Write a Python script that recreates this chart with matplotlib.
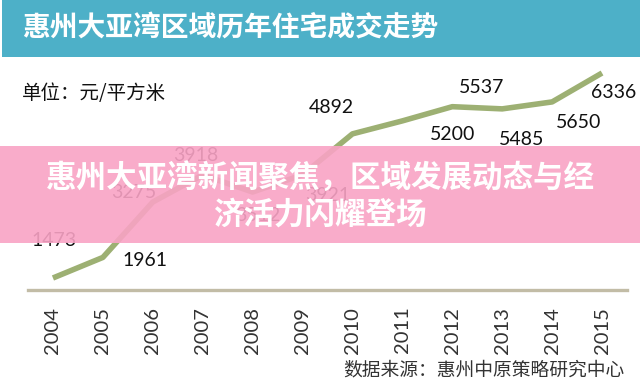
import matplotlib
matplotlib.use('Agg')
import matplotlib.pyplot as plt
from matplotlib.patches import Rectangle

plt.rcParams['font.family'] = ['Noto Sans CJK SC', 'DejaVu Sans']

# datos del grafico
years = ['2004', '2005', '2006', '2007', '2008', '2009',
         '2010', '2011', '2012', '2013', '2014', '2015']
prices = [1473, 1961, 3275, 3918, 3512, 3921,
          4892, 5200, 5537, 5485, 5650, 6336]

title = '惠州大亚湾区域历年住宅成交走势'
unit = '单位：元/平方米'
source = '数据来源：惠州中原策略研究中心'
banner = '惠州大亚湾新闻聚焦，区域发展动态与经\n济活力闪耀登场'

# desplazamiento de cada etiqueta (puntos)
offsets = [(1, 27), (30, -2), (-14, 7), (-5, 14), (4, -17), (18, -15),
           (-15, 19), (36, -10), (21, 14), (14, -22), (19, -15), (8, -14)]

fig = plt.figure(figsize=(6.4, 3.91), dpi=100)
fig.patch.set_facecolor('white')

# barra del titulo
fig.patches.append(Rectangle((2 / 640, 1 - 57 / 391), 638 / 640, 57 / 391,
                             transform=fig.transFigure, facecolor='#4DB0C8',
                             edgecolor='none', zorder=0))
fig.text(22 / 640, 1 - 28 / 391, title, color='white', fontsize=20,
         fontweight='bold', va='center', ha='left')

fig.text(22 / 640, 1 - 93 / 391, unit, color='#111111', fontsize=14,
         va='center', ha='left')

ax = fig.add_axes([28 / 640, 1 - 290 / 391, 599 / 640, 228 / 391])
ax.set_facecolor('none')
x = list(range(len(years)))
ax.plot(x, prices, color='#9DB073', lw=4, solid_capstyle='butt')
for xi, v, off in zip(x, prices, offsets):
    ax.annotate(str(v), (xi, v), xytext=off, textcoords='offset points',
                ha='center', va='center', fontsize=14, color='#111111',
                family=['Lato', 'DejaVu Sans'])

ax.set_xlim(-0.5, len(years) - 0.5)
ax.set_ylim(1188, 6597)
ax.set_xticks(x)
ax.set_xticklabels(years, rotation=90, fontsize=14.5, color='#333333',
                   family=['Lato', 'DejaVu Sans'])
ax.tick_params(axis='x', length=0, pad=12)
ax.set_yticks([])
for s in ['top', 'left', 'right']:
    ax.spines[s].set_visible(False)
ax.spines['bottom'].set_color('#C2BCA6')
ax.spines['bottom'].set_linewidth(2.4)

fig.text(624 / 640, 1 - 370 / 391, source, color='#333333', fontsize=13.5,
         va='center', ha='right')

# banda rosa encima
fig.patches.append(Rectangle((0, 1 - 243 / 391), 1, 97 / 391,
                             transform=fig.transFigure, facecolor='#F9A3C5',
                             alpha=0.9, edgecolor='none', zorder=5))
fig.text(0.5, 1 - 196 / 391, banner, color='white', fontsize=22,
         fontweight='bold', ha='center', va='center', linespacing=1.2,
         zorder=6)

fig.savefig('out.png', dpi=100)
